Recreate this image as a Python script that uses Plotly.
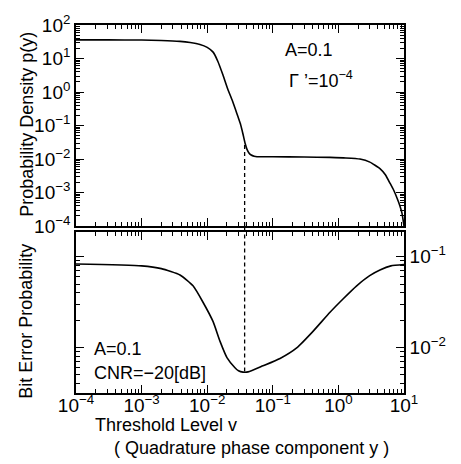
import plotly.graph_objects as go

# ---- data ----
# Upper panel: probability density p(y) vs threshold v
pdf_v = [1e-4, 3e-4, 1e-3, 2.0e-3, 3.85e-3, 5.5e-3, 7.76e-3, 1.0e-2, 1.23e-2,
         1.45e-2, 1.74e-2, 2.05e-2, 2.40e-2, 2.70e-2, 2.95e-2, 3.2e-2,
         3.39e-2, 3.60e-2, 3.80e-2, 4.0e-2, 4.3e-2, 4.68e-2, 5.2e-2, 5.75e-2,
         0.1, 0.3, 0.745, 1.3, 2.13, 3.02, 4.30, 5.2, 6.12, 7.0, 7.82, 8.6,
         9.33, 10.0]
pdf_p = [36.0, 35.9, 35.5, 34.5, 32.4, 30.0, 26.3, 21.5, 15.5,
         8.3, 3.2, 1.25, 0.575, 0.30, 0.182, 0.115,
         0.074, 0.045, 0.0285, 0.0205, 0.0155, 0.0132, 0.0121, 0.0117,
         0.0117, 0.0115, 0.0112, 0.0108, 0.0100, 0.0081, 0.0052, 0.0034, 0.0019, 0.00115, 0.00069, 0.00042,
         0.00024, 0.0001]

# Lower panel: bit error probability vs threshold v
bep_v = [1e-4, 1e-3, 2.0e-3, 3.85e-3, 6.08e-3, 8.63e-3, 1.23e-2, 1.57e-2,
         2.0e-2, 2.65e-2, 3.0e-2, 3.51e-2, 4.2e-2, 7.08e-2, 0.129, 0.234, 0.41, 0.745,
         1.175, 1.90, 3.0, 4.30, 6.31, 10.0]
bep_p = [0.0832, 0.0794, 0.0741, 0.0631, 0.0479, 0.0316, 0.0193, 0.0117,
         0.00776, 0.00600, 0.00555, 0.00537, 0.00540, 0.0063, 0.0076, 0.0100, 0.0151, 0.0245,
         0.0343, 0.0479, 0.0620, 0.0716, 0.0794, 0.0822]

# optimum threshold (dashed line)
v_opt = 0.0372
p_at_opt = 0.030
bep_at_opt = 0.00537

x_tick_exp = [-4, -3, -2, -1, 0, 1]
y1_tick_exp = [-4, -3, -2, -1, 0, 1, 2]
y2_tick_exp = [-2, -1]

FONT = "Liberation Sans, Arial, Helvetica, sans-serif"


def major(exps):
    return [10.0 ** e for e in exps], ["10<sup>%s</sup>" % (str(e).replace("-", "−")) for e in exps]


def minors(lo, hi):
    vals = []
    for e in range(lo, hi + 1):
        for m in range(2, 10):
            vals.append(m * 10.0 ** e)
    return vals


fig = go.Figure()

fig.add_trace(go.Scatter(x=pdf_v, y=pdf_p, mode="lines",
                         line=dict(color="black", width=1.6, shape="spline", smoothing=0.4),
                         xaxis="x", yaxis="y", showlegend=False))
fig.add_trace(go.Scatter(x=[v_opt, v_opt], y=[1e-4, p_at_opt], mode="lines",
                         line=dict(color="black", width=1.3, dash="4px,3px"),
                         xaxis="x", yaxis="y", showlegend=False))

fig.add_trace(go.Scatter(x=bep_v, y=bep_p, mode="lines",
                         line=dict(color="black", width=1.6, shape="spline", smoothing=0.5),
                         xaxis="x2", yaxis="y2", showlegend=False))
fig.add_trace(go.Scatter(x=[v_opt, v_opt], y=[0.3, bep_at_opt], mode="lines",
                         line=dict(color="black", width=1.3, dash="4px,3px"),
                         xaxis="x2", yaxis="y2", showlegend=False))

# invisible carriers for the minor-tick axes
fig.add_trace(go.Scatter(x=[1e-3], y=[1.0], mode="markers", marker=dict(opacity=0),
                         xaxis="x3", yaxis="y3", showlegend=False, hoverinfo="skip"))
fig.add_trace(go.Scatter(x=[1e-3], y=[0.05], mode="markers", marker=dict(opacity=0),
                         xaxis="x4", yaxis="y4", showlegend=False, hoverinfo="skip"))

top_dom = [0.4536, 1.0]
bot_dom = [0.0, 0.4377]

# dashed segment crossing the gap between the panels
fig.add_shape(type="line", xref="x2", yref="paper", x0=v_opt, x1=v_opt,
              y0=bot_dom[1], y1=top_dom[0],
              line=dict(color="black", width=1.3, dash="4px,3px"))

axis_common = dict(type="log", showline=True, linecolor="black", linewidth=1.6,
                   mirror="ticks", ticks="inside", ticklen=8, tickwidth=1.2,
                   tickcolor="black", showgrid=False, zeroline=False,
                   tickmode="array",
                   tickfont=dict(family=FONT, size=19, color="black"))

minor_common = dict(type="log", showline=False, mirror="ticks", ticks="inside",
                    ticklen=4, tickwidth=1, tickcolor="black", showgrid=False,
                    zeroline=False, tickmode="array", showticklabels=False)

xv, xt = major(x_tick_exp)
y1v, y1t = major(y1_tick_exp)
y2v, y2t = major(y2_tick_exp)

fig.update_layout(
    width=461, height=464,
    margin=dict(l=76, r=57, t=16, b=71),
    paper_bgcolor="white", plot_bgcolor="rgba(0,0,0,0)",
    font=dict(family=FONT, size=18, color="black"),
    xaxis=dict(axis_common, range=[-4, 1], anchor="y", showticklabels=False,
               tickvals=xv, ticktext=xt),
    yaxis=dict(axis_common, range=[-4, 2], domain=top_dom, anchor="x",
               tickvals=y1v, ticktext=y1t),
    xaxis2=dict(axis_common, range=[-4, 1], anchor="y2",
                tickvals=xv, ticktext=xt, ticklabelstandoff=-6),
    yaxis2=dict(axis_common, range=[-2.5, -0.726], domain=bot_dom, anchor="x2",
                side="right", tickvals=y2v, ticktext=y2t),
    xaxis3=dict(minor_common, range=[-4, 1], anchor="y3", tickvals=minors(-4, 0)),
    yaxis3=dict(minor_common, range=[-4, 2], domain=top_dom, anchor="x3",
                tickvals=minors(-4, 1)),
    xaxis4=dict(minor_common, range=[-4, 1], anchor="y4", tickvals=minors(-4, 0)),
    yaxis4=dict(minor_common, range=[-2.5, -0.726], domain=bot_dom, anchor="x4",
                tickvals=minors(-3, -1)),
)

ann = dict(xref="paper", yref="paper", showarrow=False,
           font=dict(family=FONT, size=18, color="black"))
fig.add_annotation(ann, text="Probability Density p(y)", x=-0.149, y=0.729,
                   textangle=-90, xanchor="center", yanchor="middle")
fig.add_annotation(ann, text="Bit Error Probability", x=-0.155, y=0.194,
                   textangle=-90, xanchor="center", yanchor="middle")
fig.add_annotation(ann, text="Threshold Level v", x=0.052, y=-0.088,
                   xanchor="left", yanchor="middle")
fig.add_annotation(ann, text="( Quadrature phase component y )", x=0.11, y=-0.149,
                   xanchor="left", yanchor="middle")
fig.add_annotation(ann, text="A=0.1", x=0.631, y=0.931, xanchor="left", yanchor="middle")
fig.add_annotation(ann, text="Γ ’=10<sup>−4</sup>", x=0.643, y=0.851,
                   xanchor="left", yanchor="middle")
fig.add_annotation(ann, text="A=0.1", x=0.049, y=0.119, xanchor="left", yanchor="middle")
fig.add_annotation(ann, text="CNR=−20[dB]", x=0.049, y=0.053, xanchor="left", yanchor="middle")

fig.write_html("out.html")
